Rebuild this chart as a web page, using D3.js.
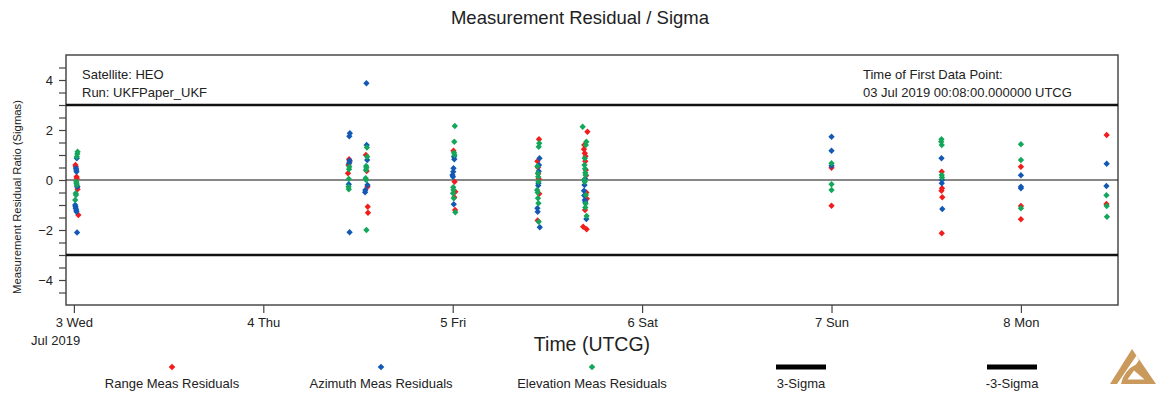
<!DOCTYPE html>
<html>
<head>
<meta charset="utf-8">
<script src="https://cdn.jsdelivr.net/npm/d3@7/dist/d3.min.js"></script>
<style>
  html, body { margin: 0; padding: 0; background: #fff; }
  svg { display: block; font-family: "Liberation Sans", Arial, sans-serif; }
</style>
</head>
<body>
<svg id="chart" width="1159" height="403"></svg>
<script>
// Residual ratios per measurement type: [UTC time "MM-DD HH:MM" in 2019, residual / sigma]
const rangeResiduals = [
  ["07-03 00:12", 0.60], ["07-03 00:14", 0.53], ["07-03 00:20", 0.13], ["07-03 00:22", 0.07],
  ["07-03 00:26", -0.27], ["07-03 00:28", -0.37], ["07-03 00:34", -1.40],
  ["07-04 10:52", 0.83], ["07-04 10:56", 0.73], ["07-04 10:48", 0.60], ["07-04 10:44", 0.27],
  ["07-04 13:00", 1.00], ["07-04 13:06", 0.36], ["07-04 13:12", -0.27], ["07-04 13:14", -1.07], ["07-04 13:16", -1.31],
  ["07-05 00:06", 1.17], ["07-05 00:14", -0.07], ["07-05 00:20", -0.47], ["07-05 00:12", -0.69], ["07-05 00:18", -1.20],
  ["07-05 10:56", 1.63], ["07-05 10:44", 0.75], ["07-05 10:48", 0.50], ["07-05 10:50", 0.25], ["07-05 10:54", 0.05],
  ["07-05 10:58", -0.55], ["07-05 10:46", -1.62],
  ["07-05 17:04", 1.93], ["07-05 16:40", 1.40], ["07-05 16:38", 1.23], ["07-05 16:44", 1.07], ["07-05 16:50", 0.95],
  ["07-05 16:48", 0.75], ["07-05 16:52", 0.40], ["07-05 16:54", 0.18], ["07-05 16:56", -0.50], ["07-05 17:00", -0.75],
  ["07-05 16:46", -1.20], ["07-05 16:32", -1.87], ["07-05 16:58", -1.97],
  ["07-07 00:00", 0.49], ["07-07 00:00", -1.03],
  ["07-07 13:58", 0.33], ["07-07 14:00", -0.33], ["07-07 13:56", -0.43], ["07-07 14:02", -0.69], ["07-07 13:58", -2.13],
  ["07-08 00:00", 0.53], ["07-08 00:00", -1.04], ["07-08 00:00", -1.57],
  ["07-08 10:52", 1.80], ["07-08 10:50", -0.96]
];

const azimuthResiduals = [
  ["07-03 00:22", 0.87], ["07-03 00:16", 0.47], ["07-03 00:18", 0.40], ["07-03 00:20", 0.33], ["07-03 00:26", -0.27],
  ["07-03 00:10", -1.00], ["07-03 00:12", -1.07], ["07-03 00:14", -1.13], ["07-03 00:18", -1.20], ["07-03 00:20", -1.27],
  ["07-03 00:24", -2.10],
  ["07-04 10:58", 1.87], ["07-04 10:54", 1.75], ["07-04 10:56", 0.78], ["07-04 10:52", 0.67], ["07-04 10:50", -0.17],
  ["07-04 10:56", -2.09],
  ["07-04 13:04", 3.87], ["07-04 13:06", 1.40], ["07-04 13:10", 0.80], ["07-04 13:12", -0.20], ["07-04 12:56", -0.40],
  ["07-04 12:54", -0.49],
  ["07-05 00:10", 0.93], ["07-05 00:12", 0.83], ["07-05 00:06", 0.47], ["07-05 00:04", 0.33], ["07-04 23:58", 0.20],
  ["07-05 00:02", 0.13], ["07-05 00:08", -0.97],
  ["07-05 11:00", 0.87], ["07-05 10:56", 0.60], ["07-05 10:54", 0.35], ["07-05 10:52", -0.13], ["07-05 10:50", -0.22],
  ["07-05 10:44", -1.13], ["07-05 10:46", -1.27], ["07-05 11:02", -1.89],
  ["07-05 16:46", 0.05], ["07-05 16:42", -0.20], ["07-05 16:38", -0.43], ["07-05 16:40", -0.62], ["07-05 16:44", -0.80],
  ["07-05 16:48", -0.88], ["07-05 16:56", -1.56],
  ["07-07 00:00", 1.73], ["07-07 00:00", 1.17], ["07-07 00:00", 0.57],
  ["07-07 13:56", 0.87], ["07-07 14:00", 0.00], ["07-07 13:58", -0.13], ["07-07 14:02", -1.16],
  ["07-08 00:00", 0.19], ["07-08 00:00", -0.27], ["07-08 00:00", -0.33],
  ["07-08 10:52", 0.65], ["07-08 10:50", -0.24]
];

const elevationResiduals = [
  ["07-03 00:28", 1.13], ["07-03 00:26", 1.04], ["07-03 00:22", 0.93], ["07-03 00:18", -0.07], ["07-03 00:20", -0.13],
  ["07-03 00:22", -0.20], ["07-03 00:14", -0.53], ["07-03 00:16", -0.60], ["07-03 00:10", -0.80],
  ["07-04 10:54", 0.53], ["07-04 10:52", 0.43], ["07-04 10:50", 0.04], ["07-04 10:48", -0.27], ["07-04 10:50", -0.37],
  ["07-04 13:08", 1.30], ["07-04 13:10", 0.93], ["07-04 13:02", 0.56], ["07-04 13:04", 0.49], ["07-04 13:00", 0.40],
  ["07-04 12:58", 0.07], ["07-04 13:02", 0.00], ["07-04 13:04", -2.00],
  ["07-05 00:16", 2.16], ["07-05 00:12", 1.53], ["07-05 00:10", 1.09], ["07-05 00:14", 1.00], ["07-05 00:04", -0.29],
  ["07-05 00:06", -0.40], ["07-05 00:02", -0.53], ["07-05 00:08", -0.73], ["07-05 00:20", -1.29],
  ["07-05 10:58", 1.47], ["07-05 10:54", 1.33], ["07-05 10:44", 0.55], ["07-05 10:48", 0.27], ["07-05 10:50", 0.13],
  ["07-05 10:52", -0.07], ["07-05 10:42", -0.40], ["07-05 10:46", -0.50], ["07-05 10:48", -0.73], ["07-05 10:52", -0.93],
  ["07-05 10:54", -1.67],
  ["07-05 16:28", 2.13], ["07-05 16:56", 1.53], ["07-05 16:52", 1.40], ["07-05 16:44", 0.87], ["07-05 16:42", 0.60],
  ["07-05 16:46", 0.45], ["07-05 16:48", 0.29], ["07-05 16:50", 0.20], ["07-05 16:40", 0.00], ["07-05 16:44", -0.07],
  ["07-05 16:52", -0.60], ["07-05 16:50", -0.95], ["07-05 16:48", -1.10], ["07-05 16:58", -1.44],
  ["07-07 00:00", 0.67], ["07-07 00:00", -0.17], ["07-07 00:00", -0.40],
  ["07-07 13:56", 1.63], ["07-07 13:54", 1.53], ["07-07 13:58", 1.40], ["07-07 13:58", 0.20], ["07-07 14:00", 0.10],
  ["07-08 00:00", 1.43], ["07-08 00:00", 0.80], ["07-08 00:00", -1.13],
  ["07-08 10:50", -0.61], ["07-08 10:52", -1.04], ["07-08 10:54", -1.47]
];

const sigmaBounds = [3, -3];
const timeSpan = ["07-02 23:00", "07-08 12:18"];
const dayTicks = ["07-03 00:00", "07-04 00:00", "07-05 00:00", "07-06 00:00", "07-07 00:00", "07-08 00:00"];
const yLabelTicks = [-4, -2, 0, 2, 4];
const yDomain = [-5, 5];

const seriesNames = ["Range Meas Residuals", "Azimuth Meas Residuals", "Elevation Meas Residuals"];
const seriesColors = ["#f21c1c", "#1259b5", "#14a65a"];
const boundNames = ["3-Sigma", "-3-Sigma"];

const parseTime = s => d3.utcParse("%Y-%m-%d %H:%M")("2019-" + s);
const fontFamily = '"Liberation Sans", Arial, sans-serif';
const textColor = "#222";

const svg = d3.select("#chart");
const margin = { left: 66, right: 1118, top: 55, bottom: 305 };

const x = d3.scaleUtc().domain(timeSpan.map(parseTime)).range([margin.left, margin.right]);
const y = d3.scaleLinear().domain(yDomain).range([margin.bottom, margin.top]);

// Title
svg.append("text")
  .attr("x", 580).attr("y", 24)
  .attr("text-anchor", "middle")
  .attr("font-size", 18.5)
  .attr("fill", textColor)
  .text("Measurement Residual / Sigma");

// Y axis: ticks every 0.5, labels on even values
const yAxis = d3.axisLeft(y)
  .tickValues(d3.range(-4.5, 4.51, 0.5))
  .tickSize(7)
  .tickPadding(6)
  .tickFormat(d => yLabelTicks.includes(d) ? d3.format("d")(d) : "");
const gy = svg.append("g").attr("transform", `translate(${margin.left},0)`).call(yAxis);
gy.select(".domain").remove();
gy.selectAll(".tick line").attr("stroke", "#444").attr("stroke-width", 1.2);
gy.selectAll(".tick text").attr("font-size", 13).attr("fill", textColor).attr("font-family", fontFamily);

// X axis: one tick per day
const xAxis = d3.axisBottom(x)
  .tickValues(dayTicks.map(parseTime))
  .tickSize(8)
  .tickPadding(5)
  .tickFormat(d3.utcFormat("%-d %a"));
const gx = svg.append("g").attr("transform", `translate(0,${margin.bottom})`).call(xAxis);
gx.select(".domain").remove();
gx.selectAll(".tick line").attr("stroke", "#444").attr("stroke-width", 1.2);
gx.selectAll(".tick text").attr("font-size", 13).attr("fill", textColor).attr("font-family", fontFamily);

svg.append("text")
  .attr("x", 31).attr("y", 345)
  .attr("font-size", 13).attr("fill", textColor)
  .text("Jul 2019");

svg.append("text")
  .attr("x", 592).attr("y", 351)
  .attr("text-anchor", "middle")
  .attr("font-size", 19.5).attr("fill", textColor)
  .text("Time (UTCG)");

svg.append("text")
  .attr("transform", "translate(21,197) rotate(-90)")
  .attr("text-anchor", "middle")
  .attr("font-size", 11.3).attr("fill", textColor)
  .text("Measurement Residual Ratio (Sigmas)");

// Plot frame
svg.append("rect")
  .attr("x", margin.left).attr("y", margin.top)
  .attr("width", margin.right - margin.left).attr("height", margin.bottom - margin.top)
  .attr("fill", "none").attr("stroke", "#4a4a4a").attr("stroke-width", 1.5);

// Zero line
svg.append("line")
  .attr("x1", margin.left).attr("x2", margin.right)
  .attr("y1", y(0)).attr("y2", y(0))
  .attr("stroke", "#111").attr("stroke-width", 1.1);

// +/- 3 sigma bounds
svg.selectAll(".bound").data(sigmaBounds).join("line")
  .attr("class", "bound")
  .attr("x1", margin.left).attr("x2", margin.right)
  .attr("y1", d => y(d)).attr("y2", d => y(d))
  .attr("stroke", "#111").attr("stroke-width", 2.4);

// Annotations
const notes = [
  { x: 82, y: 79, t: "Satellite: HEO" },
  { x: 82, y: 97, t: "Run: UKFPaper_UKF" },
  { x: 863, y: 79, t: "Time of First Data Point:" },
  { x: 863, y: 97, t: "03 Jul 2019 00:08:00.000000 UTCG" }
];
svg.selectAll(".note").data(notes).join("text")
  .attr("class", "note")
  .attr("x", d => d.x).attr("y", d => d.y)
  .attr("font-size", 13).attr("fill", textColor)
  .text(d => d.t);

// Residual markers (small diamonds)
const diamond = d3.symbol().type(d3.symbolSquare).size(20);
const allSeries = [rangeResiduals, azimuthResiduals, elevationResiduals];
allSeries.forEach((series, i) => {
  svg.append("g").selectAll("path").data(series).join("path")
    .attr("d", diamond)
    .attr("transform", d => `translate(${x(parseTime(d[0]))},${y(d[1])}) rotate(45)`)
    .attr("fill", seriesColors[i]);
});

// Legend
const legendX = [172, 381, 592];
seriesNames.forEach((name, i) => {
  svg.append("path")
    .attr("d", d3.symbol().type(d3.symbolSquare).size(22)())
    .attr("transform", `translate(${legendX[i]},367) rotate(45)`)
    .attr("fill", seriesColors[i]);
  svg.append("text")
    .attr("x", legendX[i]).attr("y", 388)
    .attr("text-anchor", "middle")
    .attr("font-size", 13).attr("fill", textColor)
    .text(name);
});
const boundLegendX = [801, 1012];
boundNames.forEach((name, i) => {
  svg.append("line")
    .attr("x1", boundLegendX[i] - 25).attr("x2", boundLegendX[i] + 25)
    .attr("y1", 367).attr("y2", 367)
    .attr("stroke", "#000").attr("stroke-width", 5);
  svg.append("text")
    .attr("x", boundLegendX[i]).attr("y", 388)
    .attr("text-anchor", "middle")
    .attr("font-size", 13).attr("fill", textColor)
    .text(name);
});

// Corner logo
const logo = svg.append("g").attr("fill", "#c99a5c");
logo.append("path").attr("d", "M1132,349 L1136.5,355.5 L1117,384 L1110,384 Z");
logo.append("path")
  .attr("fill-rule", "evenodd")
  .attr("d", "M1136.5,355.5 L1156,384 L1121,384 Q1124,370 1136,364.5 L1139,360 Z M1134,370.5 L1144.5,379.5 L1127.5,379.5 Z");
</script>
</body>
</html>
